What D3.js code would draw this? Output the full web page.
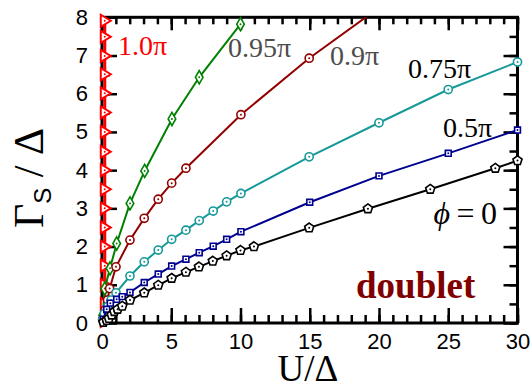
<!DOCTYPE html>
<html>
<head>
<meta charset="utf-8">
<script src="https://cdn.jsdelivr.net/npm/d3@7"></script>
<style>
  body { margin: 0; background: #fff; }
  svg { display: block; }
</style>
</head>
<body>
<svg id="chart" width="532" height="387"></svg>
<script>
// values (U/Δ, Γs/Δ)
const phi0U = [0.1, 0.34, 0.5, 0.7, 0.89, 1.13, 1.46, 2.02, 3.05, 4.06, 5.03, 6.06, 7.0, 8.0, 9.0, 10.0, 10.97, 14.96, 19.2, 23.7, 28.4, 30];
const phi0G = [0.02, 0.07, 0.12, 0.21, 0.3, 0.36, 0.44, 0.6, 0.79, 0.99, 1.17, 1.33, 1.47, 1.62, 1.76, 1.9, 2.0, 2.49, 2.99, 3.5, 4.05, 4.25];

const halfU = [0.1, 0.34, 0.6, 1.06, 1.46, 2.02, 3.05, 4.06, 5.03, 6.06, 7.02, 8.03, 9.0, 10.03, 15, 20, 25, 30];
const halfG = [0.1, 0.36, 0.52, 0.62, 0.69, 0.8, 1.06, 1.28, 1.49, 1.67, 1.84, 2.01, 2.19, 2.39, 3.16, 3.85, 4.44, 5.05];

const threeQU = [0.05, 0.17, 0.41, 0.65, 1.01, 2.02, 3.05, 4.06, 5.03, 6.06, 7.02, 8.03, 9.0, 10.03, 14.96, 20, 25, 30];
const threeQG = [0.08, 0.25, 0.43, 0.6, 0.79, 1.23, 1.6, 1.91, 2.19, 2.43, 2.68, 2.93, 3.17, 3.39, 4.35, 5.24, 6.11, 6.83];

const nineU = [0.05, 0.22, 0.4, 0.55, 1.01, 2.02, 3.05, 4.06, 5.03, 6.06, 10.03, 14.96, 20];
const nineG = [0.1, 0.34, 0.6, 0.9, 1.47, 2.17, 2.74, 3.24, 3.66, 4.05, 5.45, 6.93, 8.25];

const nine5U = [0.05, 0.2, 0.58, 1.06, 2.02, 3.08, 5.05, 7.02, 10.0];
const nine5G = [0.2, 0.9, 1.43, 2.08, 3.13, 3.98, 5.34, 6.43, 7.82];

const piU = [0.2, 0.2, 0.2, 0.2, 0.2, 0.2, 0.2, 0.2, 0.2, 0.2, 0.2, 0.2, 0.2, 0.2, 0.2, 0.2, 0.2];
const piG = [0.05, 0.5, 1.0, 1.5, 2.0, 2.5, 3.0, 3.5, 4.0, 4.48, 5.0, 5.51, 6.01, 6.51, 6.99, 7.49, 7.91];

const xMajor = [0, 5, 10, 15, 20, 25, 30];
const yMajor = [0, 1, 2, 3, 4, 5, 6, 7, 8];

const series = [
  { U: piU, G: piG, color: '#ff0000', marker: 'tri' },
  { U: nine5U, G: nine5G, color: '#008000', marker: 'diamond' },
  { U: nineU, G: nineG, color: '#920000', marker: 'circle' },
  { U: threeQU, G: threeQG, color: '#17999a', marker: 'circle' },
  { U: halfU, G: halfG, color: '#000090', marker: 'square' },
  { U: phi0U, G: phi0G, color: '#000000', marker: 'pentagon' }
];

const svg = d3.select('#chart');
const x = d3.scaleLinear().domain([0, 30]).range([102, 517.5]);
const y = d3.scaleLinear().domain([0, 8]).range([323, 17.3]);

const tickFont = '"Liberation Sans", Arial, sans-serif';
const serif = '"Liberation Serif", "Times New Roman", serif';

// Rahmen
svg.append('rect')
  .attr('x', x(0)).attr('y', y(8))
  .attr('width', x(30) - x(0)).attr('height', y(0) - y(8))
  .attr('fill', 'none').attr('stroke', '#000').attr('stroke-width', 3);

function styleAxis(g, w) {
  g.select('.domain').remove();
  g.selectAll('.tick line').attr('stroke', '#000').attr('stroke-width', w);
  g.selectAll('.tick text').attr('fill', '#000').style('font-family', tickFont).style('font-size', '22px');
}

// untere Achse
svg.append('g').attr('transform', `translate(0,${y(0)})`)
  .call(d3.axisBottom(x).tickValues(d3.range(0, 31, 1)).tickSize(-8).tickFormat(''))
  .call(g => styleAxis(g, 2.5));
svg.append('g').attr('transform', `translate(0,${y(0)})`)
  .call(d3.axisBottom(x).tickValues(xMajor).tickSize(-15).tickPadding(10).tickFormat(d3.format('d')))
  .call(g => styleAxis(g, 2.5));
// obere Achse
svg.append('g').attr('transform', `translate(0,${y(8)})`)
  .call(d3.axisTop(x).tickValues(d3.range(0, 31, 1)).tickSize(-7).tickFormat(''))
  .call(g => styleAxis(g, 2.5));
svg.append('g').attr('transform', `translate(0,${y(8)})`)
  .call(d3.axisTop(x).tickValues(xMajor).tickSize(-13).tickFormat(''))
  .call(g => styleAxis(g, 2.5));
// linke Achse
svg.append('g').attr('transform', `translate(${x(0)},0)`)
  .call(d3.axisLeft(y).tickValues(d3.range(0, 8.01, 0.5)).tickSize(-8).tickFormat(''))
  .call(g => styleAxis(g, 2.5));
svg.append('g').attr('transform', `translate(${x(0)},0)`)
  .call(d3.axisLeft(y).tickValues(yMajor).tickSize(-15).tickPadding(14).tickFormat(d3.format('d')))
  .call(g => styleAxis(g, 2.5));
// rechte Achse
svg.append('g').attr('transform', `translate(${x(30)},0)`)
  .call(d3.axisRight(y).tickValues(d3.range(0, 8.01, 0.5)).tickSize(-8).tickFormat(''))
  .call(g => styleAxis(g, 2.5));
svg.append('g').attr('transform', `translate(${x(30)},0)`)
  .call(d3.axisRight(y).tickValues(yMajor).tickSize(-14).tickFormat(''))
  .call(g => styleAxis(g, 2.5));

// Clip fuer Kurven
svg.append('clipPath').attr('id', 'plot')
  .append('rect')
  .attr('x', x(0) - 2).attr('y', y(8))
  .attr('width', x(30) - x(0) + 4).attr('height', y(0) - y(8) + 2);

const line = d3.line().x(d => x(d[0])).y(d => y(d[1]));

function markerPath(type) {
  if (type === 'circle') return d3.symbol(d3.symbolCircle, 52)();
  if (type === 'square') return d3.symbol(d3.symbolSquare, 34)();
  if (type === 'diamond') return d3.symbol(d3.symbolDiamond, 50)();
  if (type === 'pentagon') {
    const r = 4.8;
    return d3.line()(d3.range(5).map(i => {
      const a = -Math.PI / 2 + i * 2 * Math.PI / 5;
      return [r * Math.cos(a), r * Math.sin(a)];
    })) + 'Z';
  }
  // Dreieck nach rechts
  return 'M-4,-6L6,0L-4,6Z';
}

series.forEach(s => {
  const pts = s.U.map((u, i) => [u, s.G[i]]);
  svg.append('path')
    .attr('clip-path', 'url(#plot)')
    .attr('d', line(pts))
    .attr('fill', 'none')
    .attr('stroke', s.color)
    .attr('stroke-width', s.marker === 'tri' ? 3 : 2);

  const m = svg.append('g').selectAll('g')
    .data(pts.filter(p => p[1] <= 8))
    .enter().append('g')
    .attr('transform', d => `translate(${x(d[0])},${y(d[1])})`);
  m.append('path')
    .attr('d', markerPath(s.marker))
    .attr('fill', '#fff')
    .attr('stroke', s.color)
    .attr('stroke-width', s.marker === 'tri' ? 2 : 1.6);
  m.append('circle').attr('r', 1).attr('fill', s.color);
});

// Achsenbeschriftungen
const yl = svg.append('text')
  .attr('transform', 'translate(43,178) rotate(-90)')
  .attr('text-anchor', 'middle')
  .style('font-family', serif).style('font-size', '42px').attr('fill', '#000');
yl.append('tspan').text('Γ');
yl.append('tspan').attr('dy', 8).style('font-family', tickFont).style('font-size', '24px').text('S');
yl.append('tspan').attr('dy', -8).text(' / Δ');

svg.append('text')
  .attr('x', 308).attr('y', 381)
  .attr('text-anchor', 'middle')
  .style('font-family', serif).style('font-size', '37px')
  .text('U/Δ');

// Kurvenbeschriftungen
const labels = [
  { t: '1.0π', x: 118, y: 55, c: '#ff0000' },
  { t: '0.95π', x: 228, y: 57, c: '#4d4d4d' },
  { t: '0.9π', x: 330, y: 65, c: '#4d4d4d' },
  { t: '0.75π', x: 408, y: 78, c: '#000' },
  { t: '0.5π', x: 443, y: 137, c: '#000' }
];
svg.selectAll('text.lab').data(labels).enter().append('text')
  .attr('class', 'lab')
  .attr('x', d => d.x).attr('y', d => d.y)
  .attr('fill', d => d.c)
  .style('font-family', serif).style('font-size', '28px')
  .text(d => d.t);

const phi = svg.append('text')
  .attr('x', 497).attr('y', 224)
  .attr('text-anchor', 'end')
  .style('font-family', serif).style('font-size', '32px');
phi.append('tspan').style('font-style', 'italic').text('ϕ');
phi.append('tspan').text('\u2009=\u20090');

svg.append('text')
  .attr('x', 356).attr('y', 298)
  .attr('fill', '#800000')
  .style('font-family', serif).style('font-size', '37px').style('font-weight', 'bold')
  .text('doublet');
</script>
</body>
</html>
